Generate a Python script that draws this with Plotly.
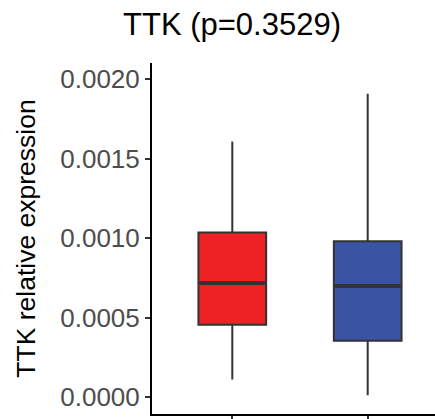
import plotly.graph_objects as go

groups = ["Group 1", "Group 2"]
positions = [0, 1]
q1 = [0.000456, 0.000356]
median = [0.000719, 0.000700]
q3 = [0.001036, 0.000981]
lower = [0.000112, 0.000013]
upper = [0.001608, 0.001908]
colors = ["#EE2124", "#3A54A4"]
tick_vals = [0.0, 0.0005, 0.0010, 0.0015, 0.0020]
title_text = "TTK (p=0.3529)"
y_label = "TTK relative expression"
box_width = 0.5

fig = go.Figure()
for i in range(len(groups)):
    fig.add_trace(go.Box(
        x=[positions[i]], name=groups[i],
        q1=[q1[i]], median=[median[i]], q3=[q3[i]],
        lowerfence=[lower[i]], upperfence=[upper[i]],
        width=box_width, whiskerwidth=0,
        fillcolor=colors[i], line=dict(color="#333333", width=2),
        boxpoints=False, showlegend=False, hoverinfo="skip",
    ))
    fig.add_trace(go.Scatter(
        x=[positions[i] - box_width / 2 + 0.01, positions[i] + box_width / 2 - 0.01],
        y=[median[i], median[i]], mode="lines",
        line=dict(color="#333333", width=4), showlegend=False, hoverinfo="skip",
    ))

fig.update_layout(
    width=435, height=419,
    margin=dict(l=152, r=0, t=63, b=3),
    paper_bgcolor="white", plot_bgcolor="white",
    font=dict(family="Liberation Sans, Arial, sans-serif"),
    title=dict(text=title_text, font=dict(size=31, color="black"),
               x=232 / 435, xanchor="center", xref="container",
               y=1 - 24 / 419, yanchor="middle", yref="container"),
    boxmode="overlay",
)
fig.update_xaxes(
    range=[-0.593, 1.497], tickvals=positions, ticktext=["", ""],
    showline=True, linecolor="black", linewidth=2, mirror=False,
    ticks="outside", ticklen=5, tickwidth=1.5, tickcolor="#333333",
    showgrid=False, zeroline=False,
)
fig.update_yaxes(
    range=[-0.0001044, 0.0021019], tickvals=tick_vals, tickformat=".4f",
    showline=True, linecolor="black", linewidth=2,
    ticks="outside", ticklen=5, tickwidth=1.5, tickcolor="#333333",
    tickfont=dict(size=26, color="#4D4D4D"),
    title=dict(text=y_label, font=dict(size=26.5, color="black"), standoff=17),
    showgrid=False, zeroline=False,
)

fig.write_html("out.html")
